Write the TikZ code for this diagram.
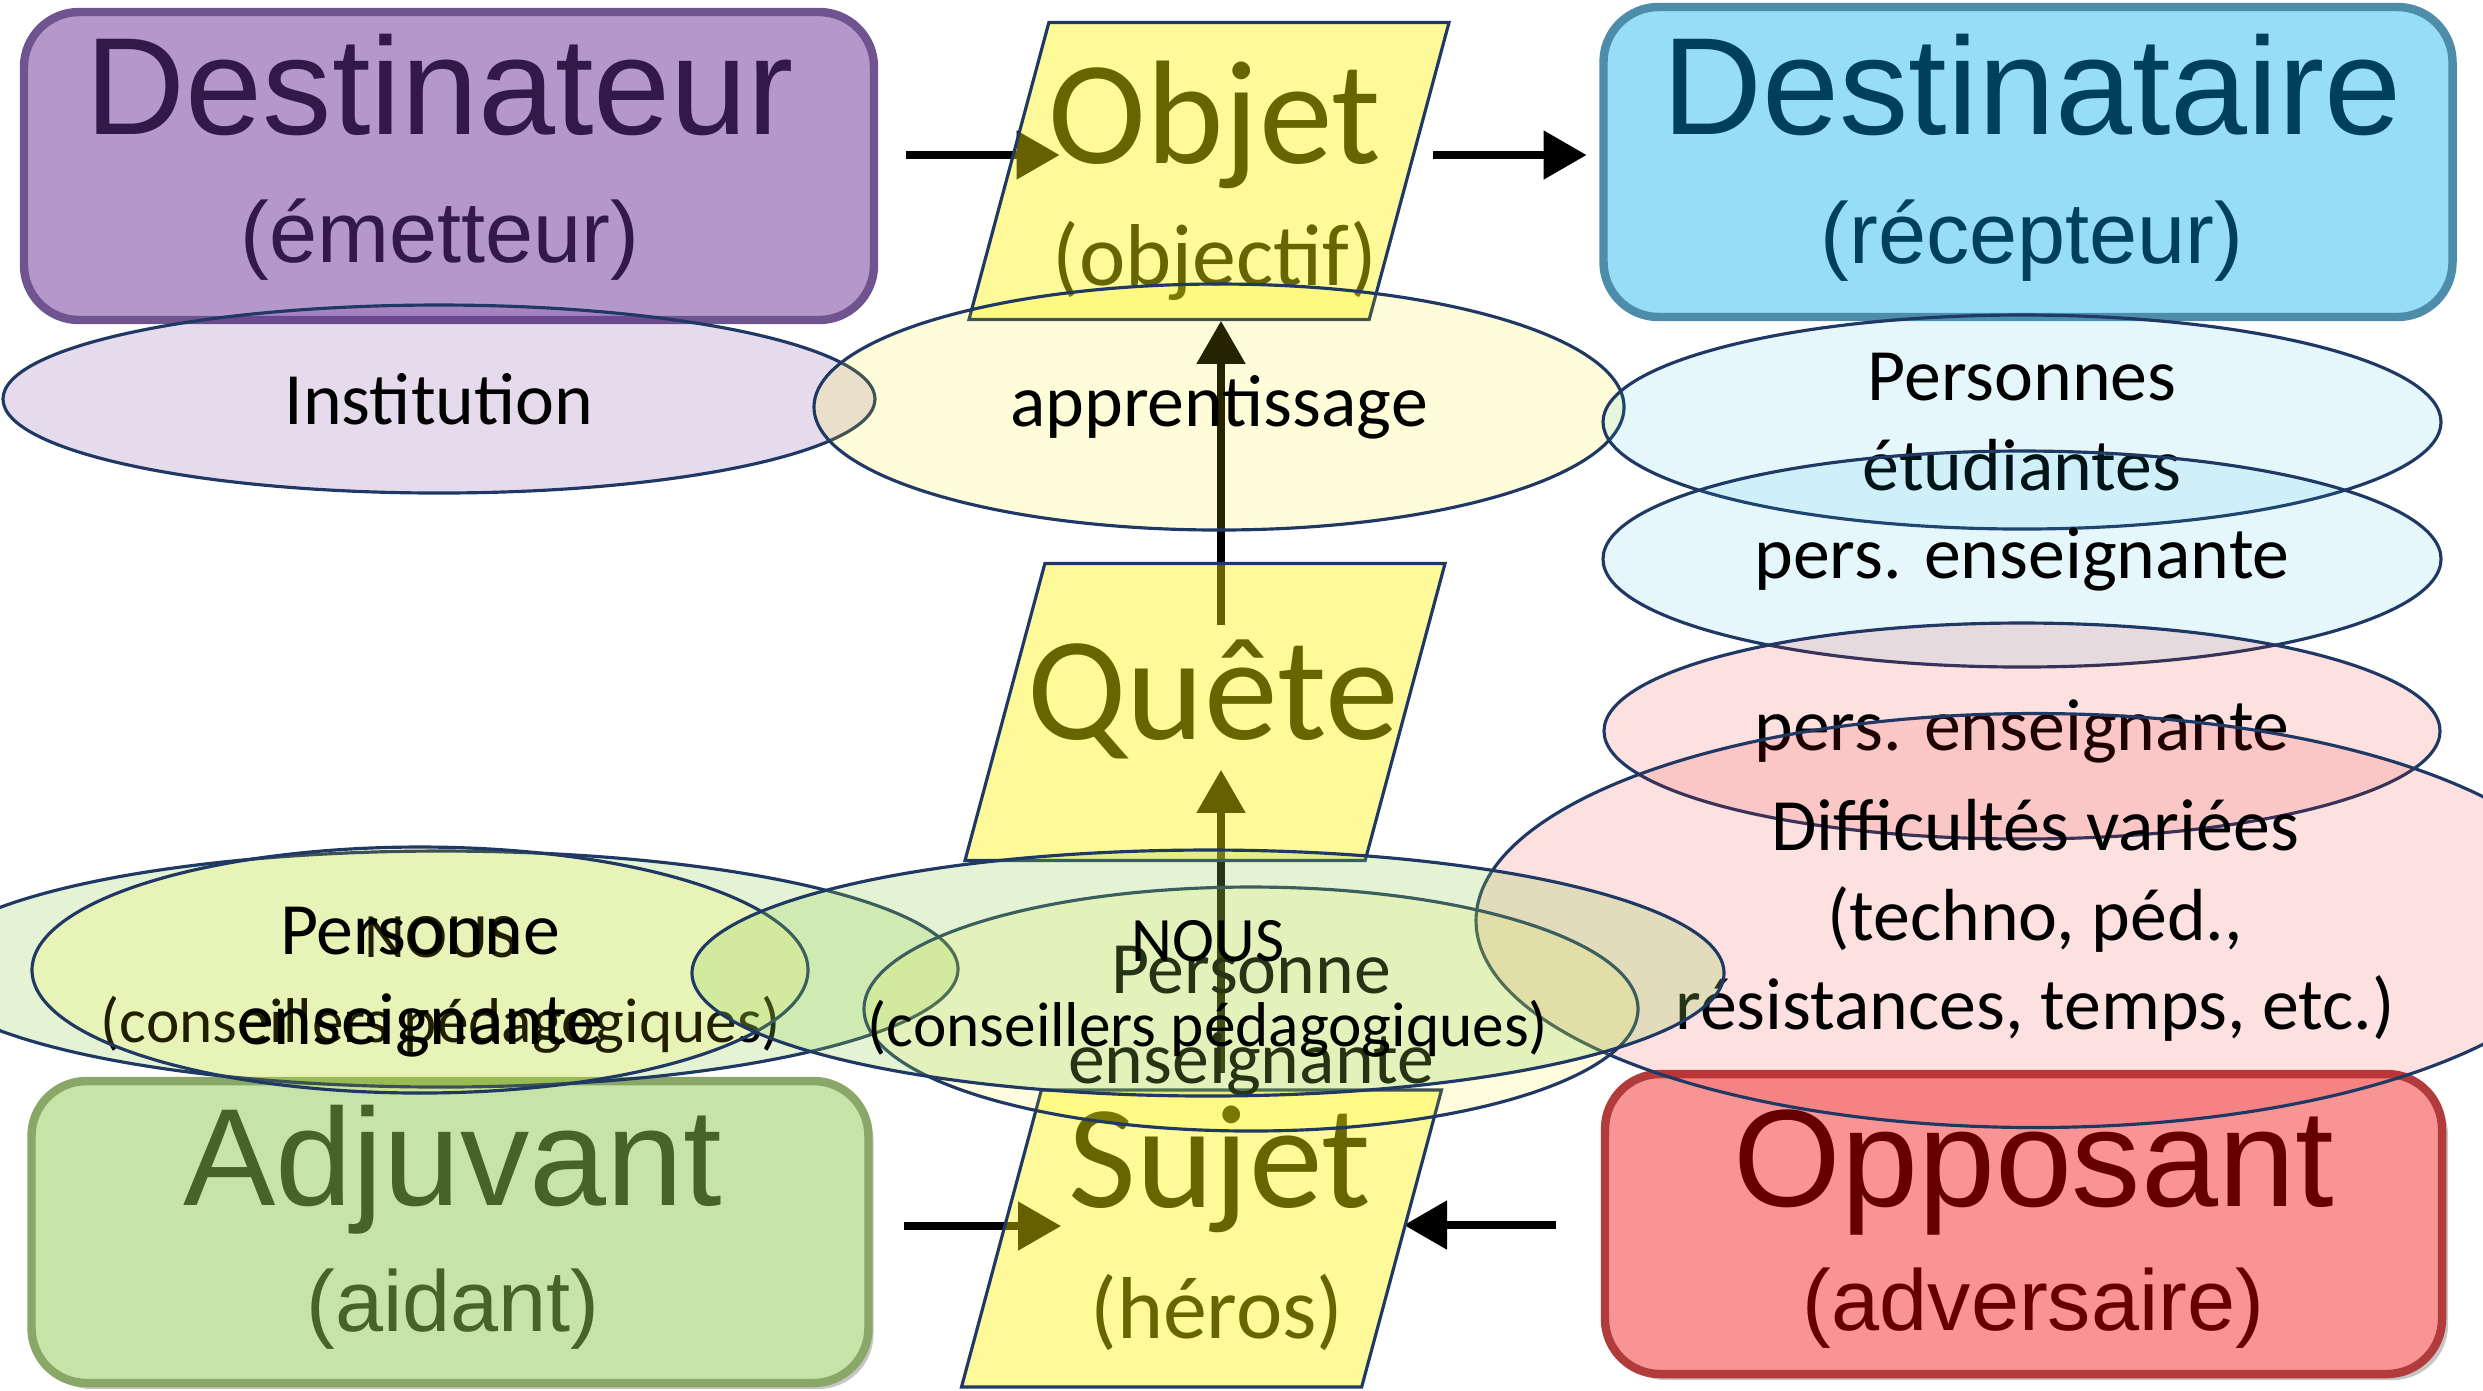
\documentclass[tikz,border=0pt]{standalone}
\usepackage{fontspec}
\setmainfont{Carlito}
\newfontfamily\boxfont{Liberation Sans}
\usepackage{tikz}
\usetikzlibrary{calc}
\usetikzlibrary{arrows}
\usetikzlibrary{shapes.geometric}
\usetikzlibrary{shadows}
\usetikzlibrary{backgrounds}

\definecolor{violet1}{RGB}{181,152,203}
\definecolor{violet2}{RGB}{111,84,144}
\definecolor{violet3}{RGB}{51,24,74}
\definecolor{violetb}{RGB}{82,15,135}
\definecolor{bleu1}{RGB}{151,221,245}
\definecolor{bleu2}{RGB}{77,141,170}
\definecolor{bleu3}{RGB}{0,64,90}
\definecolor{bleub}{RGB}{25,185,225}
\definecolor{vert1}{RGB}{198,227,168}
\definecolor{vert2}{RGB}{137,168,104}
\definecolor{vert3}{RGB}{72,98,42}
\definecolor{rouge1}{RGB}{248,148,148}
\definecolor{rouge2}{RGB}{178,60,60}
\definecolor{rouge3}{RGB}{102,0,0}
\definecolor{rougeb}{RGB}{240,20,20}
\definecolor{texteolive}{RGB}{102,102,0}
\definecolor{marine}{RGB}{31,56,100}
\definecolor{vertnous}{RGB}{146,208,80}

\begin{document}
\begin{tikzpicture}[
     boite/.style={rectangle,rounded corners=5.5mm,line width=2.4pt},
     titre/.style={anchor=base,font=\boxfont\fontsize{39.4}{41}\selectfont},
     soustitre/.style={anchor=base,font=\boxfont\fontsize{24.6}{26}\selectfont},
     para/.style={trapezium,trapezium left angle=76,trapezium right angle=104,
       trapezium stretches=true,minimum width=4.8cm,minimum height=2.97cm,
       inner sep=2pt,draw=marine,line width=0.9pt,fill=yellow,fill opacity=0.4},
     ptitre/.style={anchor=base,text=texteolive,font=\fontsize{42}{44}\selectfont},
     psoustitre/.style={anchor=base,text=texteolive,font=\fontsize{25}{27}\selectfont},
     bulle/.style={ellipse,draw=marine,line width=0.9pt,inner sep=0pt},
     mot/.style={align=center,text opacity=1,font=\fontsize{21}{25.5}\selectfont},
     motnous/.style={align=center,text opacity=1,yshift=-1.6mm,font=\fontsize{18}{24}\selectfont},
     fleche/.style={-triangle 60,line width=2.4pt}
   ]
   \path[use as bounding box] (0,0) rectangle (24.83,-13.90);
   % Boxes.
   \node[boite,fill=violet1,draw=violet2,minimum width=8.5cm,minimum height=3.08cm] (dteur) at (4.49,-1.66) {};
   \node[titre,text=violet3] (dteurt) at ($(dteur)+(-0.09,0.32)$) {Destinateur};
   \node[soustitre,text=violet3] (dteurs) at ($(dteur)+(-0.09,-0.96)$) {(émetteur)};
   \node[boite,fill=bleu1,draw=bleu2,minimum width=8.49cm,minimum height=3.1cm] (dtaire) at (20.28,-1.62) {};
   \node[titre,text=bleu3] (dtairet) at ($(dtaire)+(0.04,0.28)$) {Destinataire};
   \node[soustitre,text=bleu3] (dtaires) at ($(dtaire)+(0.04,-1.01)$) {(récepteur)};
   \node[boite,fill=vert1,draw=vert2,minimum width=8.37cm,minimum height=3.02cm,
     drop shadow={shadow xshift=0.5mm,shadow yshift=-0.6mm,opacity=0.45}] (adjuv) at (4.5,-12.32) {};
   \node[titre,text=vert3] (adjuvt) at ($(adjuv)+(0.03,0.27)$) {Adjuvant};
   \node[soustitre,text=vert3] (adjuvs) at ($(adjuv)+(0.03,-0.99)$) {(aidant)};
   \node[boite,fill=rouge1,draw=rouge2,minimum width=8.37cm,minimum height=3.0cm,
     drop shadow={shadow xshift=0.6mm,shadow yshift=-0.6mm,opacity=0.45}] (oppos) at (20.235,-12.24) {};
   \node[titre,text=rouge3] (oppost) at ($(oppos)+(0.1,0.18)$) {Opposant};
   \node[soustitre,text=rouge3] (oppost) at ($(oppos)+(0.1,-1.06)$) {(adversaire)};
   % Parallelograms.
   \node[para] (objet) at (12.09,-1.71) {};
   \node[ptitre] (objett) at (12.15,-1.63) {Objet};
   \node[psoustitre] (objets) at (12.15,-2.85) {(objectif)};
   \node[para] (quete) at (12.05,-7.12) {};
   \node[ptitre] (quetet) at (12.13,-7.39) {Quête};
   \node[para] (sujet) at (12.015,-12.385) {};
   \node[ptitre] (sujett) at (12.2,-12.07) {Sujet};
   \node[psoustitre] (sujets) at (12.17,-13.38) {(héros)};
   \coordinate (axe) at (12.21,0);
   % Arrows.
   \begin{scope}[on background layer]
     \draw[fleche] ($(dteur.east)+(0.28,0.11)$) -- ($(objet.west |- dteur.east)+(0.52,0.11)$);
     \draw[fleche] ($(objet.east |- dtaire.west)+(0.22,0.07)$) -- ($(dtaire.west)+(-0.13,0.07)$);
     \draw[fleche] ($(axe |- quete.north)+(0,-0.63)$) -- (axe |- objet.south);
     \draw[fleche] ($(axe |- sujet.north)+(0,0.15)$) -- ($(axe |- quete.south)+(0,0.92)$);
     \draw[fleche] ($(adjuv.east)+(0.31,0.06)$) -- ($(sujet.west |- adjuv.east)+(0.61,0.06)$);
     \draw[fleche] ($(oppos.west)+(-0.45,-0.01)$) -- ($(sujet.east |- oppos.west)+(0.01,-0.01)$);
   \end{scope}
   % Ellipses.
   \node[bulle,fill=violetb,fill opacity=0.15,minimum width=8.72cm,minimum height=1.88cm,
     label={[mot]center:Institution}] (inst) at (4.39,-3.99) {};
   \node[bulle,fill=yellow,fill opacity=0.15,minimum width=8.1cm,minimum height=2.46cm,
     label={[mot]center:apprentissage}] (appr) at (12.19,-4.07) {};
   \node[bulle,fill=bleub,fill opacity=0.11,minimum width=8.38cm,minimum height=2.14cm,
     label={[mot]center:{Personnes\\étudiantes}}] (etud) at (20.22,-4.22) {};
   \node[bulle,fill=bleub,fill opacity=0.11,minimum width=8.38cm,minimum height=2.16cm,
     label={[mot]center:pers. enseignante}] (ensb) at (20.22,-5.59) {};
   \node[bulle,fill=rougeb,fill opacity=0.13,minimum width=8.36cm,minimum height=2.16cm,
     label={[mot]center:pers. enseignante}] (ensr) at (20.22,-7.31) {};
   \node[bulle,fill=rougeb,fill opacity=0.13,minimum width=11.18cm,minimum height=4.14cm,
     label={[mot]center:{Difficultés variées\\(techno, péd.,\\résistances, temps, etc.)}}] (diff) at (20.35,-9.205) {};
   \node[bulle,fill=vertnous,fill opacity=0.25,minimum width=10.34cm,minimum height=2.36cm,
     label={[motnous]center:{NOUS\\(conseillers pédagogiques)}}] (nousg) at (4.41,-9.69) {};
   \node[bulle,fill=yellow,fill opacity=0.13,minimum width=7.76cm,minimum height=2.46cm,
     label={[mot,yshift=-1.2mm]center:{Personne\\enseignante}}] (persg) at (4.2,-9.7) {};
   \node[bulle,fill=yellow,fill opacity=0.13,minimum width=7.74cm,minimum height=2.44cm,
     label={[mot,yshift=-1.2mm]center:{Personne\\enseignante}}] (persc) at (12.51,-10.09) {};
   \node[bulle,fill=vertnous,fill opacity=0.25,minimum width=10.32cm,minimum height=2.46cm,
     label={[motnous]center:{NOUS\\(conseillers pédagogiques)}}] (nousc) at (12.08,-9.73) {};
\end{tikzpicture}
\end{document}
